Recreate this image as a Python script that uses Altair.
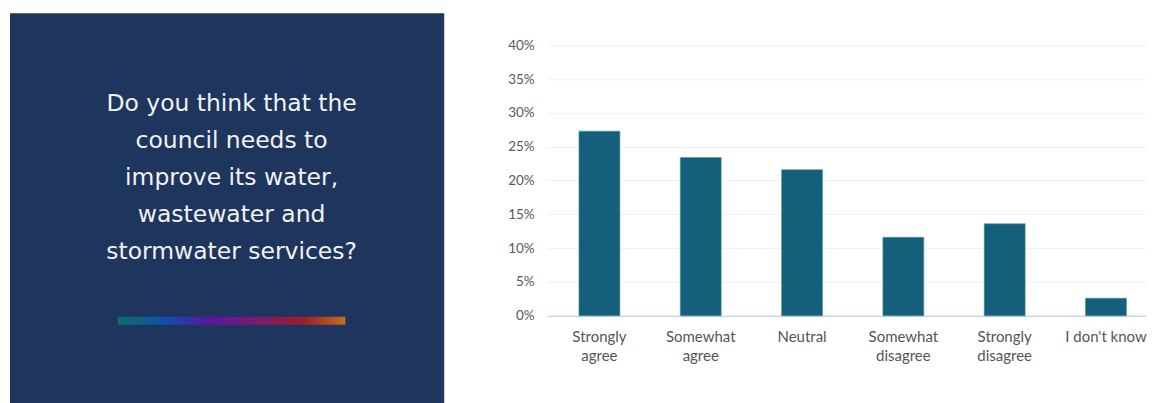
import altair as alt
import pandas as pd

categories = ["Strongly agree", "Somewhat agree", "Neutral", "Somewhat disagree", "Strongly disagree", "I don't know"]
values = [27.3, 23.4, 21.6, 11.6, 13.6, 2.6]
y_ticks = [0, 5, 10, 15, 20, 25, 30, 35, 40]
question_lines = ["Do you think that the", "council needs to", "improve its water,", "wastewater and", "stormwater services?"]

NAVY = "#1e355e"
BAR = "#135f7c"
FONT = "Lato"

df = pd.DataFrame({"category": categories, "value": values})

# Left panel
PW, PH = 435, 395
bg = alt.Chart(alt.Data(values=[{}])).mark_rect(color=NAVY).encode(
    x=alt.value(0), x2=alt.value(PW), y=alt.value(0), y2=alt.value(PH)
)
txt = alt.Chart(alt.Data(values=[{"t": question_lines}])).mark_text(
    color="#f2f2f2", font="DejaVu Sans", fontSize=23.5, fontWeight="normal", align="center",
    baseline="alphabetic", lineHeight=37
).encode(x=alt.value(222), y=alt.value(98), text="t:N")
grad = alt.Chart(alt.Data(values=[{}])).mark_rect(
    color=alt.LinearGradient(
        gradient="linear", x1=0, x2=1, y1=0, y2=0,
        stops=[
            alt.GradientStop(color="#0f6e64", offset=0),
            alt.GradientStop(color="#1050a8", offset=0.2),
            alt.GradientStop(color="#5a17a0", offset=0.4),
            alt.GradientStop(color="#7a1a70", offset=0.6),
            alt.GradientStop(color="#a01c28", offset=0.82),
            alt.GradientStop(color="#c0701a", offset=1),
        ],
    )
).encode(x=alt.value(108), x2=alt.value(336), y=alt.value(304), y2=alt.value(312))
left = alt.layer(bg, txt, grad).properties(width=PW, height=PH)

# Right: bar chart
bars = alt.Chart(df).mark_bar(color=BAR, stroke="#4f8fa8", strokeWidth=0.6).encode(
    x=alt.X(
        "category:N", sort=categories,
        scale=alt.Scale(paddingInner=0.596, paddingOuter=0.254, align=0.62),
        axis=alt.Axis(
            title=None, labelAngle=0, labelFont=FONT, labelFontSize=15,
            labelColor="#555555", labelPadding=14, labelLineHeight=19,
            labelBaseline="top", ticks=False, domainColor="#c5d2e0", domainWidth=1.2,
            grid=False,
            labelExpr="test(/know/, datum.label) ? datum.label : split(datum.label, ' ')",
        ),
    ),
    y=alt.Y(
        "value:Q",
        scale=alt.Scale(domain=[0, 44.72], nice=False),
        axis=alt.Axis(
            title=None, values=y_ticks, labelExpr="datum.value + '%'",
            labelFont=FONT, labelFontSize=13.5, labelColor="#595959",
            domain=False, ticks=False, labelPadding=13,
            minExtent=40, maxExtent=40,
            gridColor="#f1f1f1", gridWidth=1,
        ),
    ),
).properties(width=600, height=303)

chart = alt.hconcat(left, bars, spacing=63).properties(
    padding={"left": 2, "top": 5, "right": 0, "bottom": 0}
).configure_view(stroke=None)

chart.save("out.html", embed_options={"renderer": "svg", "actions": False})
